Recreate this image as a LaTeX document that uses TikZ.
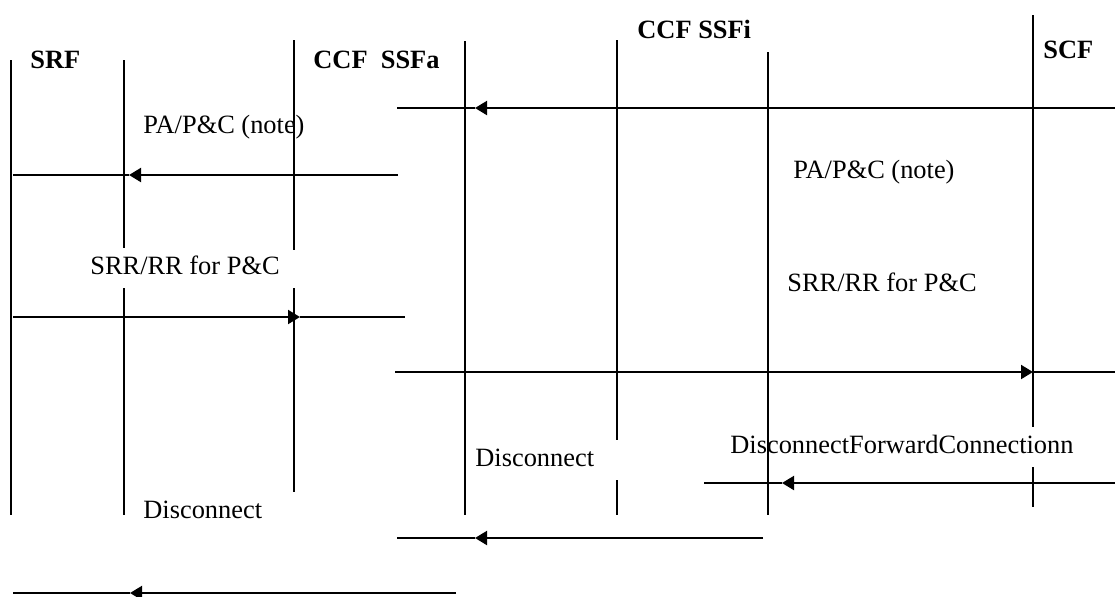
\documentclass[tikz,border=0pt]{standalone}
\usepackage{fontspec}
\setmainfont{Liberation Serif}
\usetikzlibrary{arrows.meta}
\begin{document}
\begin{tikzpicture}[x=0.5pt,y=-0.5pt,
  lifeline/.style={line width=1pt},
  msg/.style={line width=1pt},
  headtip/.style={-{Triangle[length=6pt,width=7pt]}},
  lbl/.style={anchor=base west,inner sep=0pt,font=\fontsize{13.2}{15}\selectfont},
  hdr/.style={anchor=base west,inner sep=0pt,font=\fontsize{13.2}{15}\selectfont\bfseries}]
\useasboundingbox (0,0) rectangle (1115,596);

% lifeline end points
\coordinate (l1t) at (11,60);   \coordinate (l1b) at (11,515);
\coordinate (l2t) at (124,60);  \coordinate (l2a) at (124,248);
\coordinate (l2c) at (124,288); \coordinate (l2b) at (124,515);
\coordinate (l3t) at (294,40);  \coordinate (l3a) at (294,250);
\coordinate (l3c) at (294,288); \coordinate (l3b) at (294,492);
\coordinate (l4t) at (465,41);  \coordinate (l4b) at (465,515);
\coordinate (l5t) at (617,40);  \coordinate (l5a) at (617,440);
\coordinate (l5c) at (617,480); \coordinate (l5b) at (617,515);
\coordinate (l6t) at (768,52);  \coordinate (l6b) at (768,515);
\coordinate (l7t) at (1033,15); \coordinate (l7a) at (1033,427);
\coordinate (l7c) at (1033,467);\coordinate (l7b) at (1033,507);

\draw[lifeline] (l1t) -- (l1b);
\draw[lifeline] (l2t) -- (l2a);
\draw[lifeline] (l2c) -- (l2b);
\draw[lifeline] (l3t) -- (l3a);
\draw[lifeline] (l3c) -- (l3b);
\draw[lifeline] (l4t) -- (l4b);
\draw[lifeline] (l5t) -- (l5a);
\draw[lifeline] (l5c) -- (l5b);
\draw[lifeline] (l6t) -- (l6b);
\draw[lifeline] (l7t) -- (l7a);
\draw[lifeline] (l7c) -- (l7b);

% headers
\node[hdr] (hsrf) at (30,68) {SRF};
\node[hdr] (hssfa) at (313,68) {CCF\ \ SSFa};
\node[hdr] (hssfi) at (637,38) {CCF SSFi};
\node[hdr] (hscf) at (1043,58) {SCF};

% labels
\node[lbl] (t1) at (143,133) {PA/P\&C (note)};
\node[lbl] (t2) at (793,178) {PA/P\&C (note)};
\node[lbl] (t3) at (90,274) {SRR/RR for P\&C};
\node[lbl] (t4) at (787,291) {SRR/RR for P\&C};
\node[lbl] (t5) at (475,466) {Disconnect};
\node[lbl] (t6) at (730,453) {DisconnectForwardConnectionn};
\node[lbl] (t7) at (143,518) {Disconnect};

% message coordinates
\coordinate (a1r) at (1115,108); \coordinate (a1h) at (475,108); \coordinate (a1l) at (397,108);
\coordinate (a2r) at (398,175);  \coordinate (a2h) at (129,175); \coordinate (a2l) at (13,175);
\coordinate (a3l) at (13,317);   \coordinate (a3h) at (300,317); \coordinate (a3r) at (405,317);
\coordinate (a4l) at (395,372);  \coordinate (a4h) at (1033,372);\coordinate (a4r) at (1115,372);
\coordinate (a5r) at (1115,483); \coordinate (a5h) at (782,483); \coordinate (a5l) at (704,483);
\coordinate (a6r) at (763,538);  \coordinate (a6h) at (475,538); \coordinate (a6l) at (397,538);
\coordinate (a7r) at (456,593);  \coordinate (a7h) at (130,593); \coordinate (a7l) at (13,593);

\draw[msg,headtip] (a1r) -- (a1h); \draw[msg] (a1h) -- (a1l);
\draw[msg,headtip] (a2r) -- (a2h); \draw[msg] (a2h) -- (a2l);
\draw[msg,headtip] (a3l) -- (a3h); \draw[msg] (a3h) -- (a3r);
\draw[msg,headtip] (a4l) -- (a4h); \draw[msg] (a4h) -- (a4r);
\draw[msg,headtip] (a5r) -- (a5h); \draw[msg] (a5h) -- (a5l);
\draw[msg,headtip] (a6r) -- (a6h); \draw[msg] (a6h) -- (a6l);
\draw[msg,headtip] (a7r) -- (a7h); \draw[msg] (a7h) -- (a7l);
\end{tikzpicture}
\end{document}
